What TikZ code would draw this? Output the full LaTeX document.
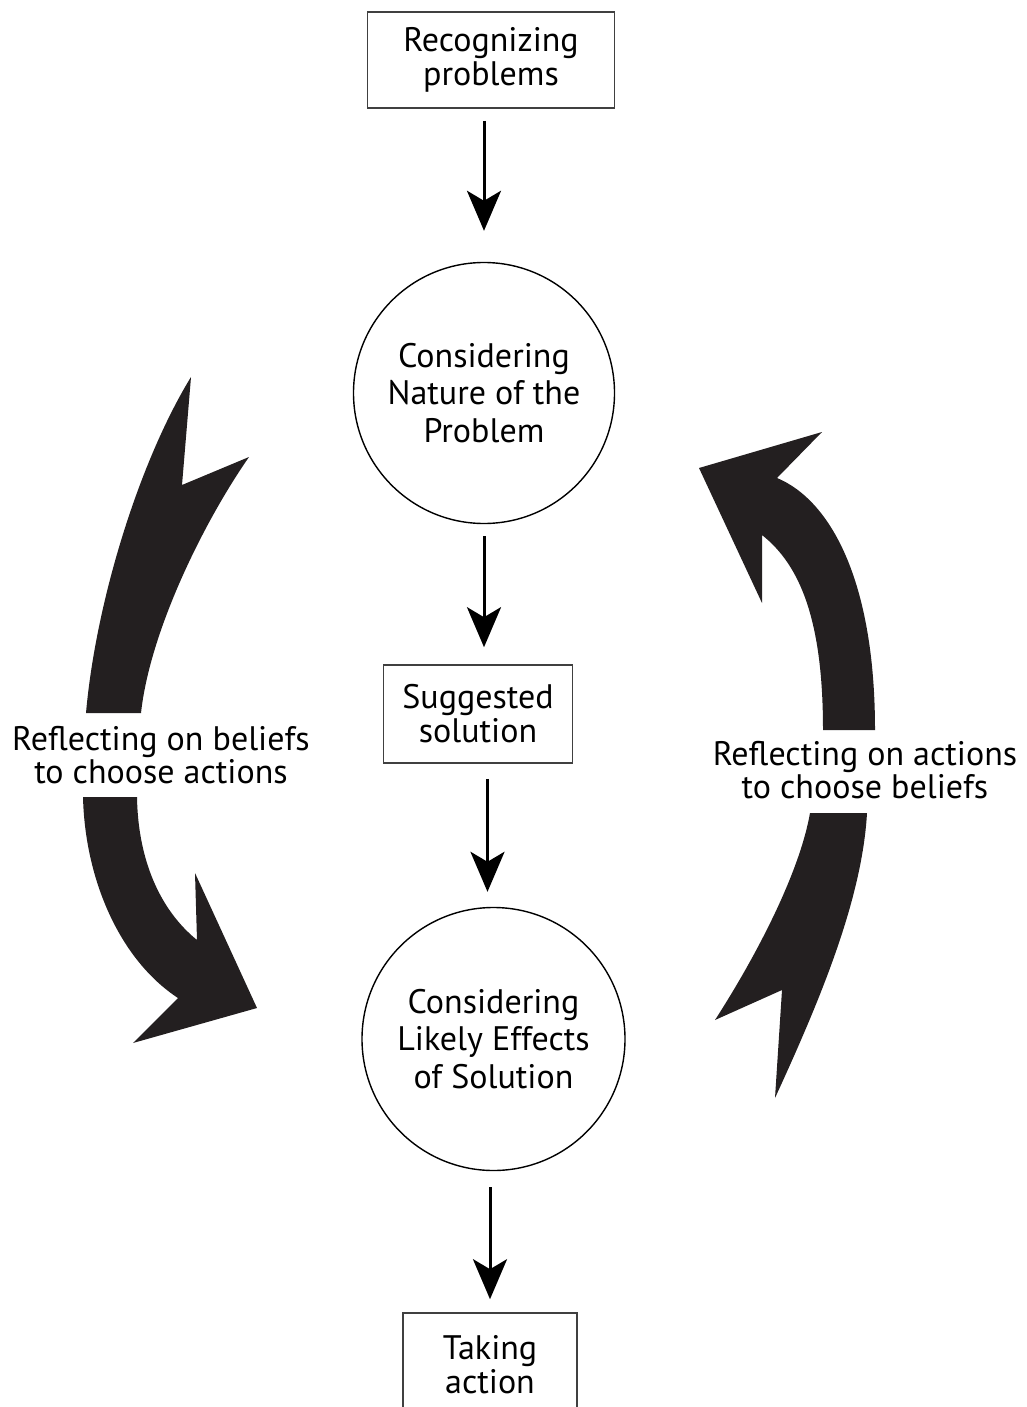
\documentclass[tikz,border=0pt]{standalone}
\usepackage{fontspec}
\setmainfont{PT Sans}
\usetikzlibrary{arrows.meta,calc}
\definecolor{bigc}{HTML}{231F20}
\begin{document}
\begin{tikzpicture}[x=1pt,y=-1pt,
  boxn/.style={draw=black!75, line width=1.6pt, inner sep=0pt, align=center, font=\fontsize{34}{34}\selectfont},
  circn/.style={circle, draw=black, line width=1.4pt, minimum size=261pt, inner sep=0pt, align=center, font=\fontsize{34}{37.5}\selectfont},
  flow/.style={line width=3pt, -{Stealth[length=40pt,width=34pt,inset=10pt]}},
  lab/.style={align=center, font=\fontsize{34}{30}\selectfont},
  bigarrow/.style={fill=bigc}
]
\useasboundingbox (0,0) rectangle (1027,1407);
\clip (0,0) rectangle (1027,1407);

% nodes
\node[boxn, minimum width=247pt, minimum height=96pt] (rec) at (491,60) {Recognizing\\problems};
\node[circn] (c1) at (484,393) {Considering\\Nature of the\\Problem};
\node[boxn, minimum width=189pt, minimum height=98pt] (sug) at (478,714) {Suggested\\solution};
\node[circn, minimum size=263pt] (c2) at (493.5,1039) {Considering\\Likely Effects\\of Solution};
\node[boxn, minimum width=174pt, minimum height=104pt] (act) at (490,1365) {Taking\\action};

\node[lab] (l1) at (161,755) {Reflecting on beliefs\\to choose actions};
\node[lab] (l2) at (865,770) {Reflecting on actions\\to choose beliefs};

% straight arrows
\draw[flow] ($(rec.south -| c1)+(0,12)$) -- ($(c1.north)+(0,-31)$);
\draw[flow] ($(c1.south)+(0,12)$) -- ($(sug.north -| c1)+(0,-17)$);
\draw[flow] ($(sug.south -| c2)+(-6,15)$) -- ($(c2.north)+(-6,-15)$);
\draw[flow] ($(c2.south -| act)+(0,16)$) -- ($(act.north)+(0,-13)$);

% big curved arrows: left (tail on top, head at bottom)
\fill[bigarrow] (191,377) -- (182,485) -- (249,457)
  .. controls (205,520) and (150,630) .. (141,713) -- (86,713)
  .. controls (96,600) and (140,460) .. (191,377) -- cycle;
\fill[bigarrow] (83,797) -- (137,797)
  .. controls (138,860) and (160,910) .. (197,940) -- (195,873) -- (257,1008)
  -- (133,1043) -- (178,998)
  .. controls (120,960) and (85,880) .. (83,797) -- cycle;

% right (tail at bottom, head on top)
\fill[bigarrow] (699,468) -- (762,603) -- (762,535)
  .. controls (800,565) and (823,620) .. (823,730) -- (875,730)
  .. controls (875,580) and (830,500) .. (777,478) -- (822,432) -- cycle;
\fill[bigarrow] (810,813) -- (867,813)
  .. controls (862,900) and (820,1000) .. (775,1098) -- (782,990) -- (715,1020)
  .. controls (760,950) and (800,870) .. (810,813) -- cycle;
\end{tikzpicture}
\end{document}
